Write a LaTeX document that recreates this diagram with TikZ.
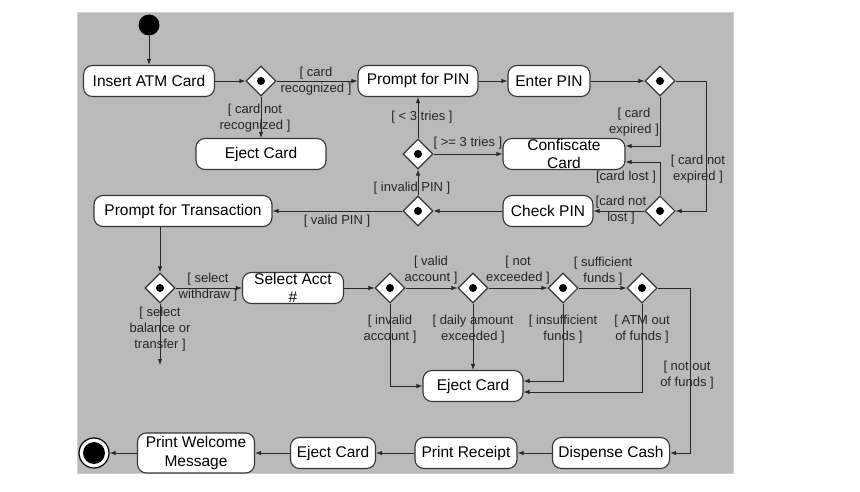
\documentclass[tikz,border=0pt]{standalone}
\usepackage{fontspec}
\setmainfont{Liberation Sans}
\usetikzlibrary{shapes.geometric,arrows.meta}
\definecolor{panelgray}{RGB}{186,186,186}
\definecolor{panelrim}{RGB}{208,208,208}
\definecolor{wireline}{RGB}{40,40,40}
\definecolor{boxline}{RGB}{55,55,55}
\begin{document}
\begin{tikzpicture}[x=1pt,y=-1pt,
  >={Latex[length=6pt,width=4.5pt]},
  act/.style={draw=boxline,fill=white,line width=1.1pt,rounded corners=9pt,
    minimum height=31pt,inner xsep=6pt,inner ysep=0pt,align=center,
    font=\fontsize{15.5}{18.5}\selectfont},
  choice/.style={diamond,draw=boxline,fill=white,line width=1.1pt,
    minimum width=30pt,minimum height=30pt,inner sep=0pt,
    path picture={\fill[black] (path picture bounding box.center) circle[radius=4pt];}},
  guard/.style={align=center,inner sep=0pt,text=black!85,
    font=\fontsize{13}{16}\selectfont},
  wire/.style={draw=wireline,line width=0.9pt}]
  \useasboundingbox (0,0) rectangle (860,492);
  \draw[panelrim,fill=panelgray,line width=1pt] (77,13) rectangle (733,473);

  \node[circle,fill=black,minimum size=21pt,inner sep=0pt] (start) at (149,25) {};
  \node[act,minimum width=131pt] (insert) at (149,81) {Insert ATM Card};
  \node[choice] (d1) at (261,81) {};
  \node[act,minimum width=120pt] (ppin) at (418,81) {Prompt for PIN};
  \node[act,minimum width=82pt] (epin) at (549,81) {Enter PIN};
  \node[choice] (d2) at (660,81) {};
  \node[act,minimum width=130pt] (eject1) at (261,154) {Eject Card};
  \node[choice] (d4) at (418,154) {};
  \node[act,minimum width=122pt] (conf) at (564,154) {Confiscate\\Card};
  \node[act,minimum width=178pt] (ptrans) at (183,211) {Prompt for Transaction};
  \node[choice] (d5) at (418,211) {};
  \node[act,minimum width=90pt] (check) at (548,211) {Check PIN};
  \node[choice] (d3) at (660,211) {};
  \node[choice] (d6) at (160,288) {};
  \node[act,minimum width=101pt] (acct) at (293,288) {Select Acct\\\#};
  \node[choice] (d7) at (390,288) {};
  \node[choice] (d8) at (473,288) {};
  \node[choice] (d9) at (563,288) {};
  \node[choice] (d10) at (642,288) {};
  \node[act,minimum width=100pt] (eject2) at (473,386) {Eject Card};
  \node[act,minimum width=115pt] (dispense) at (611,453) {Dispense Cash};
  \node[act,minimum width=102pt] (receipt) at (466,453) {Print Receipt};
  \node[act,minimum width=85pt] (eject3) at (333,453) {Eject Card};
  \node[act,minimum width=117pt,minimum height=40pt,inner ysep=3pt] (welcome)
    at (196,453) {Print Welcome\\Message};
  \node[circle,draw=black,line width=1.2pt,fill=white,minimum size=30pt,inner sep=0pt,
    path picture={\fill[black] (path picture bounding box.center) circle[radius=11pt];}]
    (stop) at (94,453) {};
  \coordinate (balend) at (160,365);

  \draw[wire,->] (start) -- (insert);
  \draw[wire,->] (insert) -- (d1);
  \draw[wire,->] (d1) -- (ppin);
  \draw[wire,->] (d1) -- (eject1);
  \draw[wire,->] (ppin) -- (epin);
  \draw[wire,->] (epin) -- (d2);
  \draw[wire,->] (d2.south) |- ([yshift=8pt]conf.east);
  \draw[wire,->] (d2.east) -- ++(31,0) |- (d3.east);
  \draw[wire,->] (d3.north) |- ([yshift=-8pt]conf.east);
  \draw[wire,->] (d3) -- (check);
  \draw[wire,->] (check) -- (d5);
  \draw[wire,->] (d5) -- (d4);
  \draw[wire,->] (d4) -- (ppin);
  \draw[wire,->] (d4) -- (conf);
  \draw[wire,->] (d5) -- (ptrans);
  \draw[wire,->] (ptrans.south -| d6) -- (d6);
  \draw[wire,->] (d6) -- (acct);
  \draw[wire,->] (d6) -- (balend);
  \draw[wire,->] (acct) -- (d7);
  \draw[wire,->] (d7) -- (d8);
  \draw[wire,->] (d8) -- (d9);
  \draw[wire,->] (d9) -- (d10);
  \draw[wire,->] (d7.south) |- (eject2.west);
  \draw[wire,->] (d8) -- (eject2);
  \draw[wire,->] (d9.south) |- ([yshift=5pt]eject2.east);
  \draw[wire,->] (d10.south) |- ([yshift=-6pt]eject2.east);
  \draw[wire,->] (d10.east) -- ++(33,0) |- (dispense.east);
  \draw[wire,->] (dispense) -- (receipt);
  \draw[wire,->] (receipt) -- (eject3);
  \draw[wire,->] (eject3) -- (welcome);
  \draw[wire,->] (welcome) -- (stop);

  \node[guard] (grec) at (316,81) {[ card\\recognized ]};
  \node[guard] (gnotrec) at (255,118) {[ card not\\recognized ]};
  \node[guard] (gless) at (422,117) {[ < 3 tries ]};
  \node[guard] (gmore) at (468,143) {[ >= 3 tries ]};
  \node[guard] (gexp) at (634,122) {[ card\\expired ]};
  \node[guard] (gnotexp) at (698,169) {[ card not\\expired ]};
  \node[guard] (glost) at (626,177) {[card lost ]};
  \node[guard] (gnotlost) at (621,210) {[card not\\lost ]};
  \node[guard] (ginvpin) at (412,188) {[ invalid PIN ]};
  \node[guard] (gvalpin) at (337,221) {[ valid PIN ]};
  \node[guard] (gwd) at (208,287) {[ select\\withdraw ]};
  \node[guard] (gbal) at (160,329) {[ select\\balance or\\transfer ]};
  \node[guard] (gacc) at (431,270) {[ valid\\account ]};
  \node[guard] (gnotex) at (518,270) {[ not\\exceeded ]};
  \node[guard] (gsuf) at (603,271) {[ sufficient\\funds ]};
  \node[guard] (ginvacc) at (390,329) {[ invalid\\account ]};
  \node[guard] (gdaily) at (473,329) {[ daily amount\\exceeded ]};
  \node[guard] (ginsuf) at (563,329) {[ insufficient\\funds ]};
  \node[guard] (gatm) at (642,329) {[ ATM out\\of funds ]};
  \node[guard] (gnotout) at (687,375) {[ not out\\of funds ]};
\end{tikzpicture}
\end{document}
